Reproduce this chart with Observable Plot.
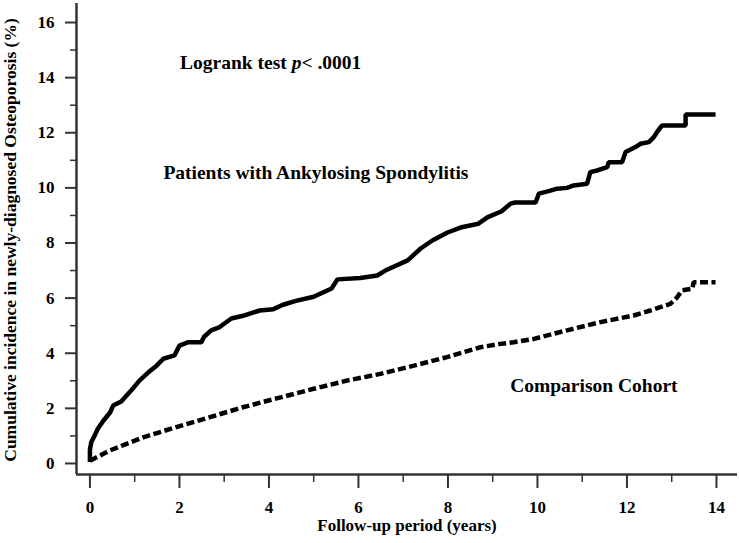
<!DOCTYPE html>
<html>
<head>
<meta charset="utf-8">
<script src="https://cdn.jsdelivr.net/npm/d3@7"></script>
<script src="https://cdn.jsdelivr.net/npm/@observablehq/plot@0.6"></script>
<style>
  html, body { margin: 0; padding: 0; background: #fff; }
</style>
</head>
<body>
<script>
// Patients with Ankylosing Spondylitis (solid)
const asYears = [0, 0, 0.03, 0.1, 0.18, 0.3, 0.45, 0.52, 0.7, 0.82, 0.95, 1.1, 1.3, 1.49, 1.64, 1.89, 2.0, 2.2, 2.49, 2.55, 2.71, 2.9, 3.16, 3.4, 3.79, 4.1, 4.3, 4.6, 5.0, 5.4, 5.53, 6.04, 6.42, 6.6, 7.1, 7.39, 7.65, 7.99, 8.28, 8.68, 8.88, 9.2, 9.4, 9.5, 9.96, 10.03, 10.25, 10.44, 10.66, 10.81, 11.11, 11.18, 11.33, 11.56, 11.59, 11.89, 11.97, 12.19, 12.3, 12.49, 12.6, 12.67, 12.78, 13.31, 13.31, 13.98];
const asIncidence = [0.05, 0.5, 0.77, 1.0, 1.27, 1.55, 1.85, 2.1, 2.25, 2.47, 2.7, 3.0, 3.3, 3.55, 3.8, 3.92, 4.28, 4.4, 4.4, 4.6, 4.83, 4.95, 5.26, 5.35, 5.55, 5.6, 5.75, 5.9, 6.05, 6.35, 6.68, 6.73, 6.82, 7.0, 7.37, 7.8, 8.09, 8.38, 8.56, 8.7, 8.93, 9.15, 9.43, 9.47, 9.47, 9.79, 9.88, 9.97, 10.0, 10.09, 10.15, 10.57, 10.63, 10.75, 10.93, 10.93, 11.3, 11.48, 11.6, 11.66, 11.84, 12.02, 12.26, 12.26, 12.66, 12.66];

// Comparison Cohort (dashed)
const compYears = [0, 0.1, 0.44, 1.19, 1.93, 2.68, 3.42, 4.17, 5.0, 5.75, 6.49, 7.24, 7.98, 8.35, 8.73, 9.17, 9.47, 9.92, 10.66, 11.41, 12.15, 12.52, 12.97, 13.12, 13.23, 13.46, 13.49, 13.98];
const compIncidence = [0.1, 0.18, 0.47, 0.95, 1.32, 1.68, 2.04, 2.36, 2.71, 3.01, 3.25, 3.55, 3.86, 4.04, 4.22, 4.34, 4.4, 4.52, 4.83, 5.13, 5.37, 5.55, 5.79, 6.03, 6.28, 6.34, 6.58, 6.58];

const xTicks = [0, 2, 4, 6, 8, 10, 12, 14];
const xMinorTicks = [1, 3, 5, 7, 9, 11, 13];
const yTicks = [0, 2, 4, 6, 8, 10, 12, 14, 16];
const yMinorTicks = [1, 3, 5, 7, 9, 11, 13, 15];

const yTitle = "Cumulative incidence in newly-diagnosed Osteoporosis (%)";
const xTitle = "Follow-up period (years)";
const logrankText = "Logrank test p< .0001";
const asLabel = "Patients with Ankylosing Spondylitis";
const compLabel = "Comparison Cohort";

const xDomain = [-0.3, 14.47];
const yDomain = [-0.4, 16.69];

const asData = asYears.map((t, i) => ({t, v: asIncidence[i]}));
const compData = compYears.map((t, i) => ({t, v: compIncidence[i]}));

const axisColor = "#333";
const font = "Liberation Serif, Times New Roman, serif";

const plot = Plot.plot({
  width: 739,
  height: 543,
  marginLeft: 76,
  marginRight: 2,
  marginTop: 3,
  marginBottom: 69,
  style: {fontFamily: font, fontWeight: "bold", fontSize: "17px", color: "#000", background: "#fff"},
  x: {domain: xDomain},
  y: {domain: yDomain},
  marks: [
    Plot.ruleX([xDomain[0]], {stroke: axisColor, strokeWidth: 2.5}),
    Plot.ruleY([yDomain[0]], {stroke: axisColor, strokeWidth: 2.5}),
    Plot.axisX(xTicks, {tickSize: 14, tickPadding: 12, stroke: axisColor, strokeWidth: 2, fill: "#000", label: null, fontSize: 17}),
    Plot.axisX(xMinorTicks, {tickSize: 8, stroke: axisColor, strokeWidth: 1.5, fill: "none", label: null}),
    Plot.axisY(yTicks, {tickSize: 11, tickPadding: 11, stroke: axisColor, strokeWidth: 2, fill: "#000", label: null, fontSize: 17}),
    Plot.axisY(yMinorTicks, {tickSize: 6, stroke: axisColor, strokeWidth: 1.5, fill: "none", label: null}),
    Plot.text([yTitle], {frameAnchor: "left", textAnchor: "middle", dx: -66, dy: 1, rotate: -90, fontSize: 17.5, fontWeight: "bold", fill: "#000"}),
    Plot.text([xTitle], {frameAnchor: "bottom", dy: 56, fontSize: 17, fontWeight: "bold", fill: "#000"}),
    Plot.line(compData, {x: "t", y: "v", stroke: "#000", strokeWidth: 4.5, strokeDasharray: "8,3.5", strokeLinecap: "butt", strokeLinejoin: "miter"}),
    Plot.line(asData, {x: "t", y: "v", stroke: "#000", strokeWidth: 4.5, strokeLinecap: "butt", strokeLinejoin: "miter"}),
    Plot.text([logrankText], {x: 4.04, y: 14.55, fontSize: 19.5, fontWeight: "bold", fill: "#000"}),
    Plot.text([asLabel], {x: 5.05, y: 10.56, fontSize: 19.5, fontWeight: "bold", fill: "#000"}),
    Plot.text([compLabel], {x: 11.26, y: 2.83, fontSize: 19.5, fontWeight: "bold", fill: "#000"})
  ]
});

// italicize the "p" in the logrank annotation
d3.select(plot).selectAll("text").each(function() {
  if (this.textContent === logrankText) {
    const sel = d3.select(this);
    sel.text(null);
    sel.append("tspan").text("Logrank test ");
    sel.append("tspan").style("font-style", "italic").text("p");
    sel.append("tspan").text("< .0001");
  }
});

document.body.append(plot);
</script>
</body>
</html>
